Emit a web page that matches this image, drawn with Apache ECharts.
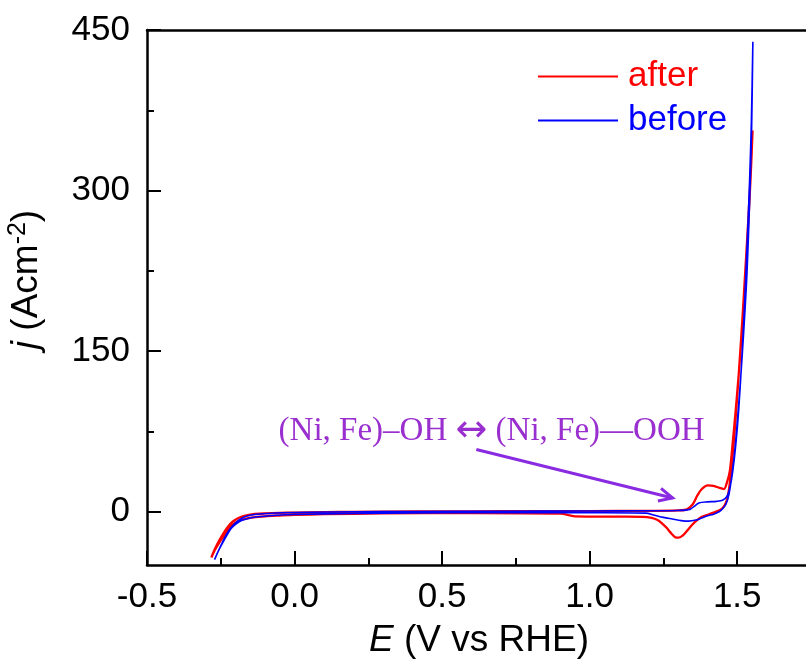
<!DOCTYPE html>
<html>
<head>
<meta charset="utf-8">
<title>CV before / after</title>
<script src="https://cdn.jsdelivr.net/npm/echarts@6/dist/echarts.min.js"></script>
<style>
  html, body { margin: 0; padding: 0; background: #fff; }
  #chart { width: 806px; height: 662px; }
</style>
</head>
<body>
<div id="chart"></div>
<script>
// Cyclic voltammograms: potential E (V vs RHE) and current density j.
// Each loop runs the anodic sweep up to the vertex, then the cathodic sweep back.
const afterE = [
  -0.282, -0.27, -0.255, -0.24, -0.225, -0.21, -0.19, -0.17, -0.14, -0.10, -0.05, 0.0,
  0.1, 0.2, 0.4, 0.6, 0.8, 1.0, 1.2, 1.3, 1.33, 1.35, 1.365, 1.38, 1.40, 1.42, 1.44,
  1.455, 1.465, 1.475, 1.485, 1.495, 1.505, 1.515, 1.525, 1.535, 1.545, 1.552,
  1.547, 1.538, 1.528, 1.518, 1.508, 1.498, 1.488, 1.478, 1.468, 1.458, 1.445, 1.42,
  1.40, 1.38, 1.36, 1.345, 1.33, 1.315, 1.30, 1.29, 1.275, 1.26, 1.245, 1.23, 1.21,
  1.18, 1.10, 0.95, 0.9, 0.6, 0.3, 0.1, 0.0, -0.05, -0.10, -0.14, -0.17, -0.19, -0.21,
  -0.225, -0.24, -0.255, -0.27, -0.282
];
const afterJ = [
  -43, -35, -27, -20, -14, -9.5, -6, -4, -2.5, -1.8, -1.3, -1.0,
  -0.6, -0.3, 0, 0.2, 0.3, 0.4, 0.6, 1.0, 2, 7, 15, 21, 24.5, 24, 22,
  21, 27, 38, 65, 95, 128, 165, 210, 258, 310, 356,
  322, 275, 228, 182, 140, 100, 64, 34, 14, 6, 2, -1,
  -3, -5, -9, -13, -18, -22.5, -24.5, -24, -20, -15, -11, -8, -6,
  -5, -4.8, -4.5, -2, -1.5, -1.8, -2.5, -3.2, -3.8, -4.5, -5.5, -7, -9, -12.5,
  -17, -23, -29, -36, -43
];
const beforeE = [
  -0.271, -0.26, -0.245, -0.23, -0.215, -0.20, -0.18, -0.16, -0.13, -0.09, -0.04, 0.05,
  0.2, 0.4, 0.7, 1.0, 1.2, 1.3, 1.34, 1.355, 1.37, 1.40, 1.43, 1.45, 1.465, 1.475,
  1.485, 1.495, 1.505, 1.515, 1.525, 1.535, 1.542, 1.548, 1.553,
  1.549, 1.542, 1.533, 1.522, 1.512, 1.502, 1.492, 1.482, 1.472, 1.462, 1.452, 1.44,
  1.42, 1.40, 1.38, 1.36, 1.335, 1.31, 1.28, 1.25, 1.22, 1.19, 1.0, 0.7, 0.4, 0.2,
  0.0, -0.06, -0.11, -0.15, -0.18, -0.20, -0.215, -0.23, -0.245, -0.26, -0.271
];
const beforeJ = [
  -45, -38, -29, -21, -15, -10.5, -6.5, -4.2, -2.6, -1.8, -1.2, -0.7,
  -0.3, 0, 0.3, 0.5, 0.7, 1, 2, 5, 8, 9, 9.5, 10.5, 14, 22,
  38, 62, 95, 140, 195, 260, 310, 365, 439,
  360, 290, 222, 168, 126, 90, 58, 34, 16, 7, 3, 0,
  -2.5, -4, -6, -8, -9, -8.5, -7, -5.5, -3.5, -1.5, -1.2, -1.0, -1.3, -1.8,
  -2.8, -3.5, -4.6, -6, -8.5, -12, -16, -22.5, -30, -38, -45
];

// Axis ticks and labels
const xTicks = [-0.5, 0.0, 0.5, 1.0, 1.5];
const xMinorTicks = [-0.25, 0.25, 0.75, 1.25];
const yTicks = [0, 150, 300, 450];
const yMinorTicks = [75, 225, 375];

// Annotation for the redox couple
const noteLeft = '(Ni, Fe)–OH';
const noteArrow = '↔';
const noteRight = '(Ni, Fe)—OOH';
const noteAnchor = [-0.054, 75];
const arrowFrom = [0.616, 58];
const arrowTo = [1.281, 12.6];

const zip = (xs, ys) => xs.map((x, i) => [x, ys[i]]);

const SANS = 'Liberation Sans, Arial, sans-serif';
const SERIF = 'Liberation Serif, Times New Roman, serif';
const PURPLE_TEXT = '#9a2fcf';
const PURPLE_ARROW = '#8a2be2';

const chart = echarts.init(document.getElementById('chart'), null, { renderer: 'canvas' });

const tickStyle = { color: '#000', width: 2 };
const xRange = { min: -0.5, max: 1.75 };
const yRange = { min: -50, max: 450 };

chart.setOption({
  animation: false,
  backgroundColor: '#fff',
  grid: { left: 147, top: 30, width: 664, height: 535, containLabel: false, outerBoundsMode: 'none' },
  legend: {
    orient: 'vertical',
    left: 538,
    top: 59,
    padding: 0,
    itemWidth: 80,
    itemHeight: 2,
    itemGap: 9,
    icon: 'rect',
    selectedMode: false,
    textStyle: { fontSize: 35, fontFamily: SANS, lineHeight: 34, padding: [0, 0, 0, 5] },
    data: [
      { name: 'after', textStyle: { color: '#ff0000' } },
      { name: 'before', textStyle: { color: '#0000ff' } }
    ]
  },
  xAxis: [
    {
      type: 'value', position: 'bottom', ...xRange,
      axisLine: { onZero: false, lineStyle: { color: '#000', width: 2.5 } },
      axisTick: { inside: true, length: 14, customValues: xTicks, lineStyle: tickStyle },
      axisLabel: {
        customValues: xTicks, margin: 15, color: '#000', fontSize: 35, fontFamily: SANS,
        formatter: v => v.toFixed(1)
      },
      splitLine: { show: false },
      name: '{i|E} (V vs RHE)',
      nameLocation: 'middle',
      nameGap: 51,
      nameTextStyle: {
        color: '#000', fontSize: 37, fontFamily: SANS, lineHeight: 42,
        rich: { i: { fontStyle: 'italic', fontSize: 37, fontFamily: SANS, color: '#000', lineHeight: 42 } }
      }
    },
    {
      type: 'value', position: 'bottom', ...xRange,
      axisLine: { show: false, onZero: false },
      axisTick: { inside: true, length: 7, customValues: xMinorTicks, lineStyle: tickStyle },
      axisLabel: { show: false },
      splitLine: { show: false }
    },
    {
      type: 'value', position: 'top', ...xRange,
      axisLine: { onZero: false, lineStyle: { color: '#000', width: 2.5 } },
      axisTick: { show: false },
      axisLabel: { show: false },
      splitLine: { show: false }
    }
  ],
  yAxis: [
    {
      type: 'value', position: 'left', ...yRange,
      axisLine: { show: true, onZero: false, lineStyle: { color: '#000', width: 2.5 } },
      axisTick: { show: true, inside: true, length: 14, customValues: yTicks, lineStyle: tickStyle },
      axisLabel: { customValues: yTicks, margin: 17, color: '#000', fontSize: 35, fontFamily: SANS },
      splitLine: { show: false },
      name: '{i|j} (Acm{sup|-2})',
      nameLocation: 'middle',
      nameGap: 99,
      nameRotate: 90,
      nameTextStyle: {
        color: '#000', fontSize: 37, fontFamily: SANS, lineHeight: 42,
        padding: [0, 0, 0, 36],
        rich: {
          i: { fontStyle: 'italic', fontSize: 37, fontFamily: SANS, color: '#000', lineHeight: 42 },
          sup: { fontSize: 25, fontFamily: SANS, color: '#000', verticalAlign: 'top', lineHeight: 25 }
        }
      }
    },
    {
      type: 'value', position: 'left', ...yRange,
      axisLine: { show: false, onZero: false },
      axisTick: { show: true, inside: true, length: 7, customValues: yMinorTicks, lineStyle: tickStyle },
      axisLabel: { show: false },
      splitLine: { show: false }
    }
  ],
  series: [
    {
      name: 'after', type: 'line', xAxisIndex: 0, yAxisIndex: 0,
      data: zip(afterE, afterJ),
      symbol: 'none', showSymbol: false, smooth: 0.3,
      lineStyle: { color: '#ff0000', width: 2.3 },
      itemStyle: { color: '#ff0000' }
    },
    {
      name: 'before', type: 'line', xAxisIndex: 0, yAxisIndex: 0,
      data: zip(beforeE, beforeJ),
      symbol: 'none', showSymbol: false, smooth: 0.3,
      lineStyle: { color: '#0000ff', width: 1.6 },
      itemStyle: { color: '#0000ff' }
    }
  ]
});

// Place the annotation and its arrow in data coordinates.
const toPx = p => chart.convertToPixel({ xAxisIndex: 0, yAxisIndex: 0 }, p);
const a = toPx(noteAnchor);
const p0 = toPx(arrowFrom);
const p1 = toPx(arrowTo);
const ang = Math.atan2(p1[1] - p0[1], p1[0] - p0[0]);
const headLen = 15, headSpread = Math.PI / 7;
const h1 = [p1[0] - headLen * Math.cos(ang - headSpread), p1[1] - headLen * Math.sin(ang - headSpread)];
const h2 = [p1[0] - headLen * Math.cos(ang + headSpread), p1[1] - headLen * Math.sin(ang + headSpread)];

chart.setOption({
  graphic: [
    {
      type: 'text', x: a[0], y: a[1], silent: true,
      style: {
        text: noteLeft + ' {ar|' + noteArrow + '} ' + noteRight,
        fill: PURPLE_TEXT, fontSize: 33, fontFamily: SERIF,
        align: 'left', verticalAlign: 'middle',
        rich: {
          ar: { fontSize: 38, fontFamily: 'DejaVu Sans', fill: PURPLE_TEXT }
        }
      }
    },
    {
      type: 'line', silent: true,
      shape: { x1: p0[0], y1: p0[1], x2: p1[0], y2: p1[1] },
      style: { stroke: PURPLE_ARROW, lineWidth: 3 }
    },
    {
      type: 'polyline', silent: true,
      shape: { points: [h1, p1, h2] },
      style: { stroke: PURPLE_ARROW, lineWidth: 3, fill: null, lineJoin: 'miter' }
    }
  ]
});
</script>
</body>
</html>
